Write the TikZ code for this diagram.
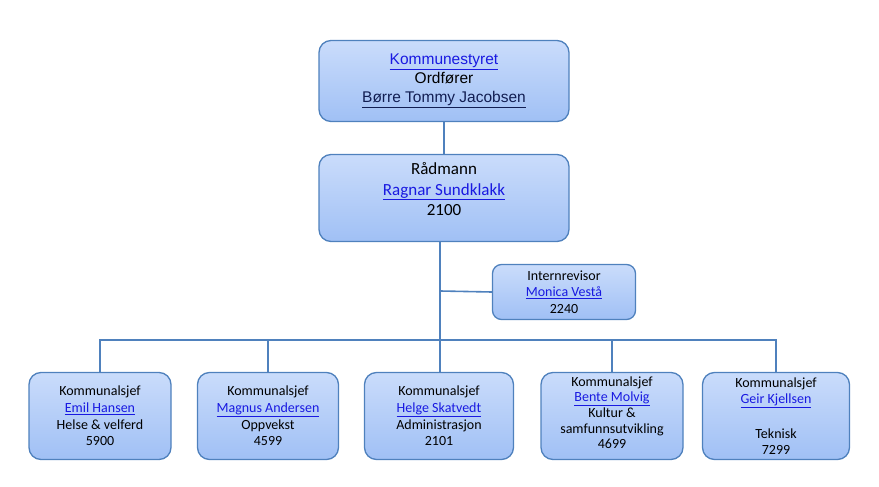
\documentclass[tikz,border=0pt]{standalone}
\usepackage{fontspec}
\setmainfont{Carlito}
\newfontfamily\arialfont{Liberation Sans}
\usepackage{xcolor}

\definecolor{linkblue}{RGB}{25,25,225}
\definecolor{navy}{RGB}{18,30,82}
\definecolor{lineblue}{RGB}{79,129,189}
\definecolor{boxtop}{RGB}{202,220,251}
\definecolor{boxbottom}{RGB}{160,192,245}

\newcommand{\lnk}[1]{\textcolor{linkblue}{\underline{#1}}}

\tikzset{
	unit/.style={draw=lineblue, line width=1.3pt, rounded corners=12pt,
		top color=boxtop, bottom color=boxbottom, inner sep=0pt, align=center},
	link/.style={draw=lineblue, line width=1.6pt}
}

\begin{document}
\begin{tikzpicture}[x=1pt, y=-1pt]
	\useasboundingbox (0,0) rectangle (879,487);

	% top of the organisation
	\node[unit, minimum width=250pt, minimum height=81pt,
		font=\arialfont\fontsize{15.5}{19}\selectfont] (styre) at (444, 81)
		{\lnk{Kommunestyret}\\Ordfører\\\textcolor{navy}{\underline{Børre Tommy Jacobsen}}};
	\node[unit, minimum width=250pt, minimum height=87pt,
		font=\fontsize{17}{20.5}\selectfont] (radmann) at (444, 198)
		{Rådmann\\\lnk{Ragnar Sundklakk}\\2100\\[-3pt]};

	\node[unit, minimum width=143pt, minimum height=55pt, rounded corners=9pt,
		font=\fontsize{14}{16.5}\selectfont] (revisor) at (564, 292)
		{Internrevisor\\\lnk{Monica Vestå}\\2240};

	% kommunalsjefer
	\begin{scope}[every node/.append style={unit, minimum height=87pt,
		font=\fontsize{14}{16.7}\selectfont}]
		\node[minimum width=142pt] (helse) at (100, 416)
			{Kommunalsjef\\\lnk{Emil Hansen}\\Helse \& velferd\\5900};
		\node[minimum width=141pt] (oppvekst) at (268, 416)
			{Kommunalsjef\\\lnk{Magnus Andersen}\\Oppvekst\\4599};
		\node[minimum width=149pt] (admin) at (439, 416)
			{Kommunalsjef\\\lnk{Helge Skatvedt}\\Administrasjon\\2101};
		\node[minimum width=142pt, font=\fontsize{14}{15.3}\selectfont] (kultur) at (612, 416)
			{Kommunalsjef\\\lnk{Bente Molvig}\\[1pt]Kultur \&\\samfunnsutvikling\\4699\\[-8pt]};
		\node[minimum width=147pt, font=\fontsize{14}{16.5}\selectfont] (teknisk) at (776, 416)
			{Kommunalsjef\\\lnk{Geir Kjellsen}\\[18pt]Teknisk\\7299};
	\end{scope}

	% connectors
	\coordinate (hub) at (440, 340);
	\coordinate (branch) at (440, 291);
	\draw[link] (styre) -- (radmann);
	\draw[link] (radmann.south -| hub) -- (hub);
	\draw[link] (branch) -- (revisor.west);
	\draw[link] (hub) -| (helse.north);
	\draw[link] (hub) -| (oppvekst.north);
	\draw[link] (hub) -- (admin.north -| hub);
	\draw[link] (hub) -| (kultur.north);
	\draw[link] (hub) -| (teknisk.north);
\end{tikzpicture}
\end{document}
